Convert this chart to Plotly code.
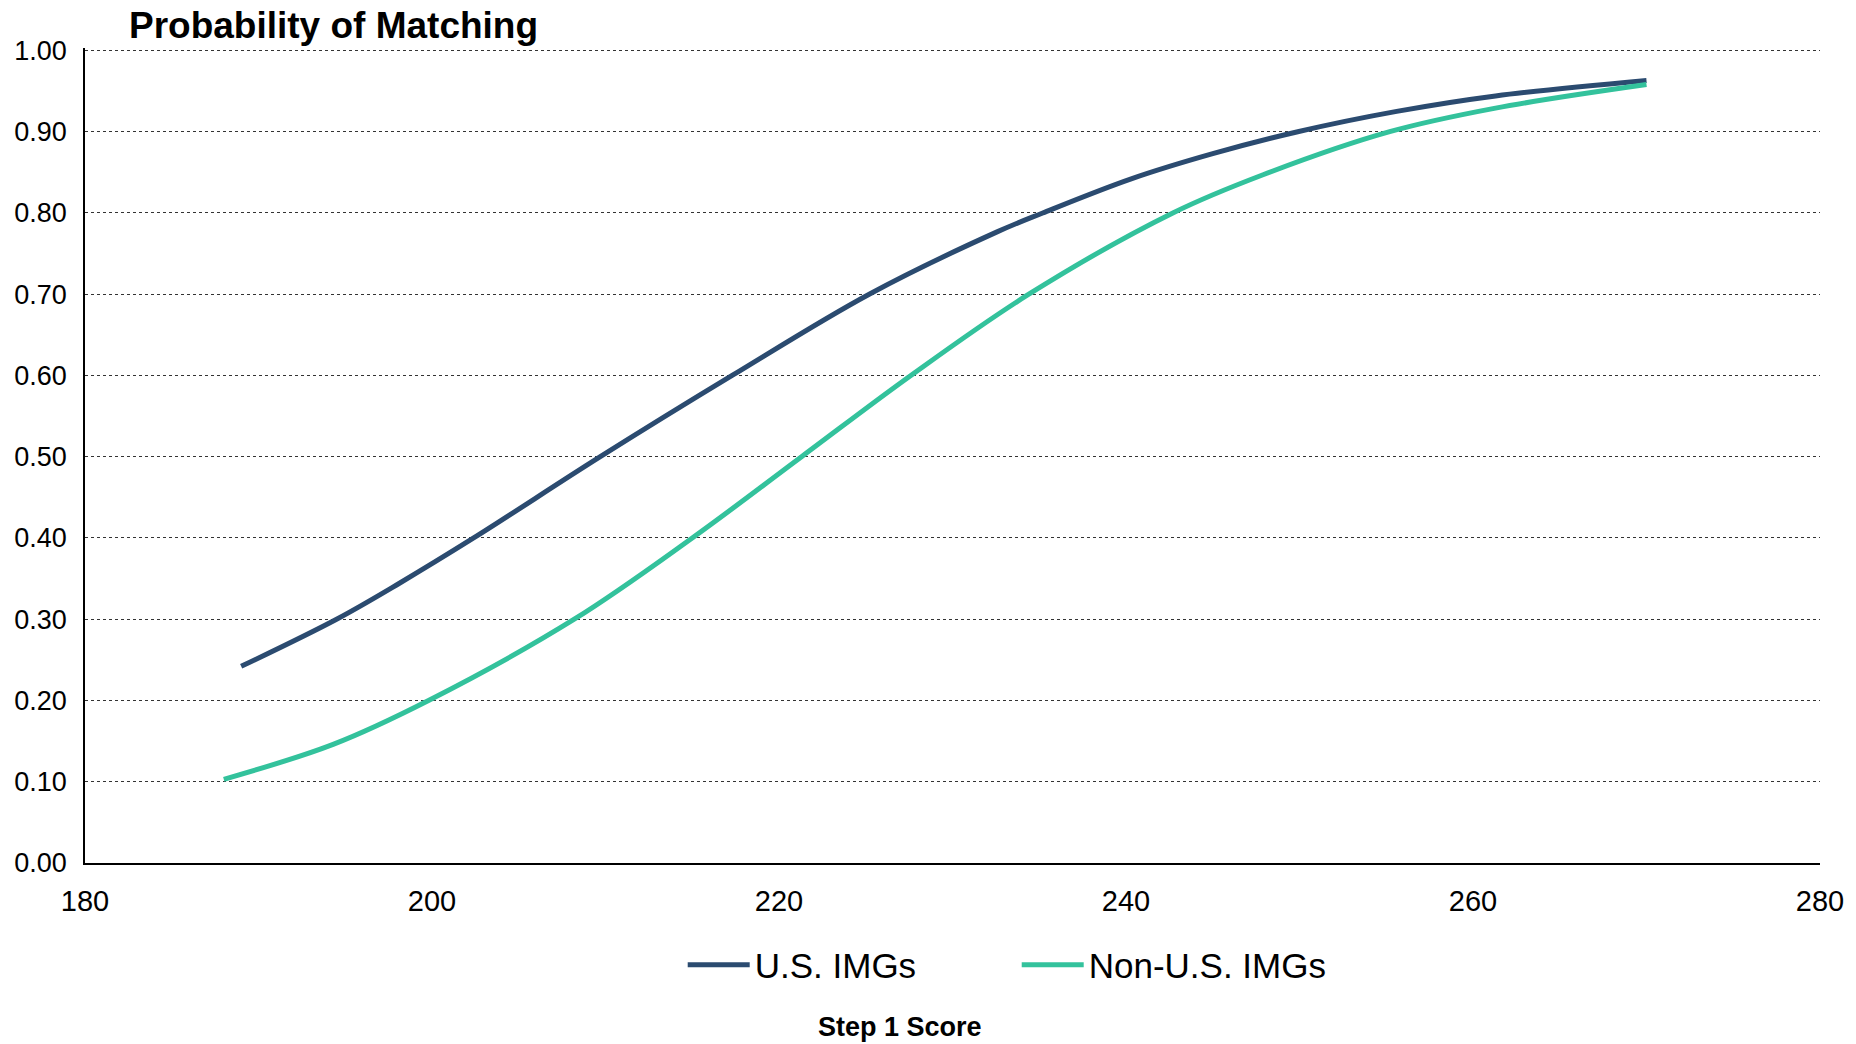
import plotly.graph_objects as go

# values
us_scores = [189.0, 194.5, 198.1, 202.4, 209.7, 217.3, 225.2, 232.6, 235.2,
             240.3, 245.0, 249.9, 255.6, 261.3, 270.0]
us_prob = [0.242, 0.300, 0.344, 0.400, 0.500, 0.600, 0.700, 0.777, 0.800,
           0.842, 0.873, 0.900, 0.925, 0.944, 0.963]

non_us_scores = [188.0, 194.3, 199.8, 208.2, 215.0, 221.3, 227.6, 234.4, 242.7,
                 247.9, 255.2, 261.3, 270.0]
non_us_prob = [0.103, 0.146, 0.200, 0.300, 0.400, 0.500, 0.600, 0.700, 0.800,
               0.847, 0.900, 0.929, 0.958]

x_ticks = [180, 200, 220, 240, 260, 280]
y_ticks = [0.0, 0.1, 0.2, 0.3, 0.4, 0.5, 0.6, 0.7, 0.8, 0.9, 1.0]

FONT = "Liberation Sans, Arial, sans-serif"
US_COLOR = "#2B4B70"
NON_US_COLOR = "#33C29C"

fig = go.Figure()
fig.add_trace(go.Scatter(x=us_scores, y=us_prob, name="U.S. IMGs", mode="lines",
                         line=dict(color=US_COLOR, width=5, shape="spline")))
fig.add_trace(go.Scatter(x=non_us_scores, y=non_us_prob, name="Non-U.S. IMGs", mode="lines",
                         line=dict(color=NON_US_COLOR, width=5, shape="spline")))

fig.update_layout(
    width=1856,
    height=1044,
    margin=dict(l=85, r=31, t=48, b=181),
    plot_bgcolor="white",
    paper_bgcolor="white",
    font=dict(family=FONT, color="black"),
    showlegend=True,
    legend=dict(orientation="h", xanchor="left", x=0.3445, yanchor="middle", y=-0.125,
                font=dict(size=35, family=FONT), itemwidth=62, entrywidth=257),
    xaxis=dict(range=[180, 280], tickvals=x_ticks, showgrid=False, zeroline=False,
               showline=True, linecolor="black", linewidth=1.5, ticks="",
               tickfont=dict(size=29), ticklabelstandoff=11),
    # a little headroom so the dotted 1.00 gridline is drawn inside the plot area
    yaxis=dict(range=[0, 1.003], tickvals=y_ticks, tickformat=".2f", showgrid=True,
               gridcolor="#333333", griddash="dot", gridwidth=1.2, zeroline=False,
               showline=True, linecolor="black", linewidth=1.5, ticks="",
               tickfont=dict(size=27), ticklabelstandoff=11),
)

fig.add_annotation(text="<b>Probability of Matching</b>", xref="paper", yref="paper",
                   x=0.024, y=1.027, xanchor="left", yanchor="middle", showarrow=False,
                   font=dict(size=37, family=FONT, color="black"))
fig.add_annotation(text="<b>Step 1 Score</b>", xref="paper", yref="paper",
                   x=0.4695, y=-0.201, xanchor="center", yanchor="middle", showarrow=False,
                   font=dict(size=27, family=FONT, color="black"))

# drop the browser's default body margin so the figure sits at the page corner
fig.write_html("out.html", config={"displayModeBar": False},
               post_script="document.body.style.margin='0';")
